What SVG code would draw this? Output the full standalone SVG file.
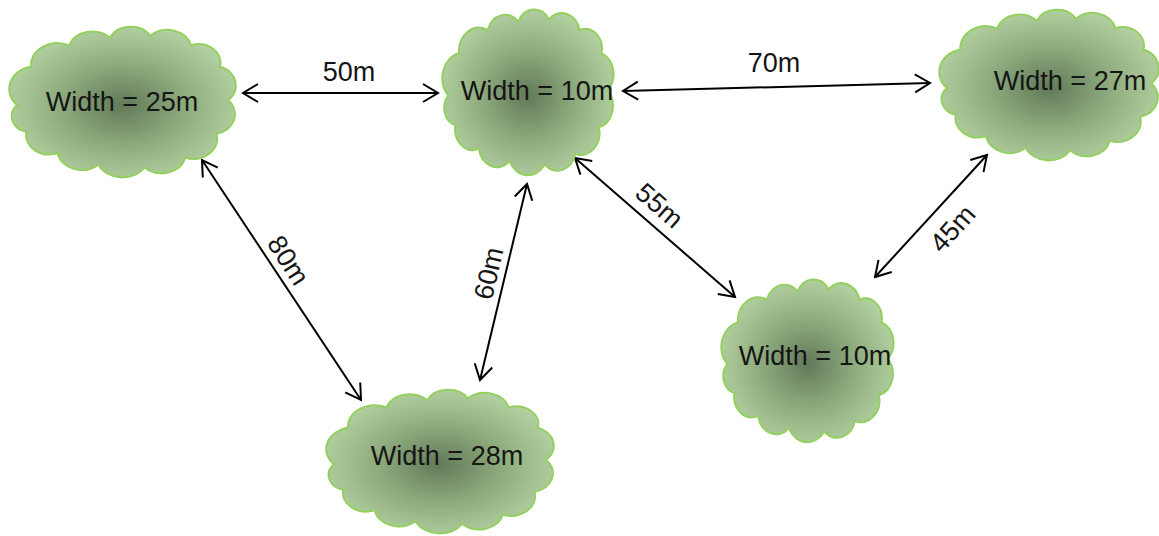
<svg xmlns="http://www.w3.org/2000/svg" width="1159" height="536" viewBox="0 0 1159 536">
<style>
.cloud{fill:url(#cg);stroke:#93d05f;stroke-width:2;vector-effect:non-scaling-stroke}
.lbl{font-family:"Liberation Sans",Arial,sans-serif;font-size:27px;fill:#151515}
.conn{stroke:#000;stroke-width:2;fill:none;marker-start:url(#ah);marker-end:url(#ah)}
</style>
<defs>
<radialGradient id="cg" cx="50%" cy="52%" r="55%">
<stop offset="0" stop-color="#627a58"/>
<stop offset="0.5" stop-color="#8eab7e"/>
<stop offset="1" stop-color="#b4d3a2"/>
</radialGradient>
<marker id="ah" markerUnits="userSpaceOnUse" viewBox="-17 -11 19 22" refX="0" refY="0" markerWidth="19" markerHeight="22" orient="auto-start-reverse">
<path d="M-15,-9 L0,0 L-15,9" fill="none" stroke="#000" stroke-width="2"/>
</marker>
<path id="cloudShape" class="cloud" d="M10,80 A24,24 0 0 1 22,40 A23,23 0 0 1 55,18 A21,21 0 0 1 90,10 A20,20 0 0 1 125,8 A21,21 0 0 1 160,18 A19,19 0 0 1 185,40 A21,21 0 0 1 192,75 A21,21 0 0 1 182,110 A21,21 0 0 1 155,135 A21,21 0 0 1 120,145 A23,23 0 0 1 80,142 A21,21 0 0 1 45,130 A20,20 0 0 1 18,108 A17,17 0 0 1 10,80 Z"/>
</defs>
<rect width="1159" height="536" fill="#fff"/>
<g id="connectors">
<line class="conn" x1="243" y1="93" x2="438" y2="93"/>
<line class="conn" x1="623" y1="91" x2="930" y2="83"/>
<line class="conn" x1="202" y1="160" x2="361" y2="400"/>
<line class="conn" x1="527" y1="184" x2="480" y2="380"/>
<line class="conn" x1="575" y1="158" x2="735" y2="297"/>
<line class="conn" x1="987" y1="155" x2="875" y2="277"/>
<text class="lbl" x="349" y="81" text-anchor="middle">50m</text>
<text class="lbl" x="774" y="72" text-anchor="middle">70m</text>
<text class="lbl" x="280.6" y="265.4" text-anchor="middle" transform="rotate(57 280.6 265.4)">80m</text>
<text class="lbl" x="497.7" y="275.3" text-anchor="middle" transform="rotate(-77 497.7 275.3)">60m</text>
<text class="lbl" x="653.4" y="212.5" text-anchor="middle" transform="rotate(41 653.4 212.5)">55m</text>
<text class="lbl" x="959.4" y="234.7" text-anchor="middle" transform="rotate(-48 959.4 234.7)">45m</text>
</g>
<g id="node1">
<use href="#cloudShape" transform="translate(5.4 28) scale(1.16 0.962)"/>
<text class="lbl" x="122" y="111" text-anchor="middle">Width = 25m</text>
</g>
<g id="node2">
<use href="#cloudShape" transform="translate(439.5 11) scale(0.876 1.058)"/>
<text class="lbl" x="537" y="100" text-anchor="middle">Width = 10m</text>
</g>
<g id="node3">
<use href="#cloudShape" transform="translate(935.5 11) scale(1.124 0.962)"/>
<text class="lbl" x="1070" y="90" text-anchor="middle">Width = 27m</text>
</g>
<g id="node4">
<use href="#cloudShape" transform="translate(718.5 281) scale(0.881 1.038)"/>
<text class="lbl" x="815" y="365" text-anchor="middle">Width = 10m</text>
</g>
<g id="node5">
<use href="#cloudShape" transform="translate(322.3 391) scale(1.165 0.917)"/>
<text class="lbl" x="447" y="465" text-anchor="middle">Width = 28m</text>
</g>
</svg>
